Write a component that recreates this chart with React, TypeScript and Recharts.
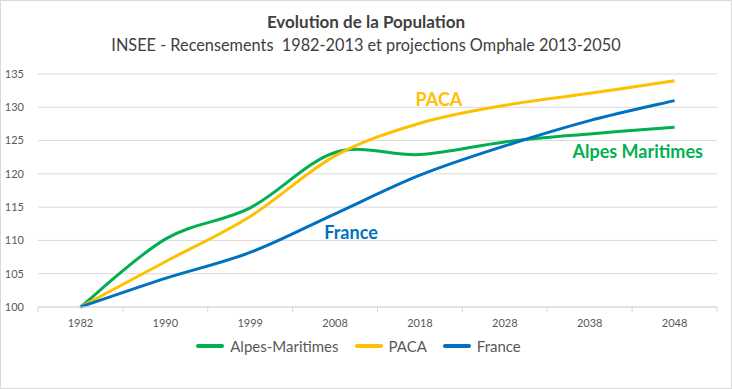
import React from 'react';
import { LineChart, Line, XAxis, YAxis, CartesianGrid, ReferenceDot, Legend } from 'recharts';

const years = ['1982', '1990', '1999', '2008', '2018', '2028', '2038', '2048'];
const alpesMaritimes = [100, 110.2, 114.9, 123.2, 122.9, 124.8, 126, 127];
const paca = [100, 106.8, 113.6, 122.7, 127.6, 130.3, 132.1, 134];
const france = [100, 104.3, 108.2, 114, 119.8, 124.2, 128, 131];
const yTicks = [100, 105, 110, 115, 120, 125, 130, 135];

const title = 'Evolution de la Population';
const subtitle = 'INSEE - Recensements  1982-2013 et projections Omphale 2013-2050';

const GREEN = '#00B050';
const ORANGE = '#FFC000';
const BLUE = '#0070C0';
const FONT = 'Lato, "Open Sans", sans-serif';

const data = years.map((y, i) => ({
  year: y,
  am: alpesMaritimes[i],
  paca: paca[i],
  france: france[i],
}));

const series = [
  { key: 'am', name: 'Alpes-Maritimes', color: GREEN },
  { key: 'paca', name: 'PACA', color: ORANGE },
  { key: 'france', name: 'France', color: BLUE },
];

// Excel-like smoothing (Catmull-Rom Bezier)
const excelCurve = (context: any) => {
  let pts: number[][] = [];
  return {
    areaStart() {},
    areaEnd() {},
    lineStart() { pts = []; },
    point(x: number, y: number) { pts.push([+x, +y]); },
    lineEnd() {
      const n = pts.length;
      if (!n) return;
      context.moveTo(pts[0][0], pts[0][1]);
      for (let i = 0; i < n - 1; i++) {
        const p0 = pts[i - 1] || pts[i];
        const p1 = pts[i];
        const p2 = pts[i + 1];
        const p3 = pts[i + 2] || p2;
        const c1x = p1[0] + (p2[0] - p0[0]) / 6;
        const c1y = p1[1] + (p2[1] - p0[1]) / 6;
        const c2x = p2[0] - (p3[0] - p1[0]) / 6;
        const c2y = p2[1] - (p3[1] - p1[1]) / 6;
        context.bezierCurveTo(c1x, c1y, c2x, c2y, p2[0], p2[1]);
      }
    },
  };
};

const BW = 84.875;

const XTick = (props: any) => {
  const { x, y, payload, index, visibleTicksCount } = props;
  return (
    <g>
      <line x1={x - BW / 2} x2={x - BW / 2} y1={y} y2={y + 5} stroke="#d9d9d9" />
      {index === visibleTicksCount - 1 && (
        <line x1={x + BW / 2} x2={x + BW / 2} y1={y} y2={y + 5} stroke="#d9d9d9" />
      )}
      <text x={x} y={y + 16} dy="0.35em" textAnchor="middle" fontSize={11} fill="#595959" fontFamily={FONT}>
        {payload.value}
      </text>
    </g>
  );
};

const LegendContent = () => (
  <div style={{ display: 'flex', justifyContent: 'center', alignItems: 'center', fontFamily: FONT, fontSize: 15, color: '#595959' }}>
    {series.map((s) => (
      <div key={s.key} style={{ display: 'flex', alignItems: 'center', margin: '0 8px' }}>
        <div style={{ width: 28, height: 4, background: s.color, borderRadius: 2, marginRight: 6 }} />
        <span>{s.name}</span>
      </div>
    ))}
  </div>
);

export default function App() {
  return (
    <div style={{ position: 'absolute', left: 0, top: 0, width: 732, height: 389, boxSizing: 'border-box', border: '1px solid #d9d9d9', background: '#fff' }}>
      <div style={{ position: 'absolute', left: 0, right: 0, top: 10, textAlign: 'center', fontFamily: FONT, fontWeight: 'bold', fontSize: 17, color: '#404040' }}>
        {title}
      </div>
      <div style={{ position: 'absolute', left: 0, right: 0, top: 34, textAlign: 'center', fontFamily: FONT, fontSize: 16.3, color: '#404040', whiteSpace: 'pre' }}>
        {subtitle}
      </div>
      <div style={{ position: 'absolute', left: -1, top: -1 }}>
        <LineChart width={732} height={389} data={data} margin={{ top: 74, right: 15, bottom: 22, left: 0 }}>
          <CartesianGrid vertical={false} stroke="#d9d9d9" />
          <XAxis dataKey="year" axisLine={{ stroke: '#d9d9d9' }} tickLine={false} tickSize={0} tickMargin={0} tick={<XTick />} height={30} interval={0} padding={{ left: BW / 2, right: BW / 2 }} />
          <YAxis domain={[100, 135]} ticks={yTicks} width={38} axisLine={false} tickLine={false} tickMargin={8} tick={{ fontSize: 11, fill: '#595959', fontFamily: FONT }} />
          {series.map((s) => (
            <Line key={s.key} dataKey={s.key} name={s.name} stroke={s.color} strokeWidth={3} dot={false} type={excelCurve as any} isAnimationActive={false} />
          ))}
          <ReferenceDot x="2018" y={131.2} r={0} stroke="none" fill="none"
            label={{ value: 'PACA', position: 'center', dx: 19, fill: ORANGE, fontWeight: 'bold', fontSize: 18, fontFamily: FONT }} />
          <ReferenceDot x="2038" y={123.3} r={0} stroke="none" fill="none"
            label={{ value: 'Alpes Maritimes', position: 'center', dx: 48, fill: GREEN, fontWeight: 'bold', fontSize: 18, fontFamily: FONT }} />
          <ReferenceDot x="2008" y={111.1} r={0} stroke="none" fill="none"
            label={{ value: 'France', position: 'center', dx: 16, fill: BLUE, fontWeight: 'bold', fontSize: 18, fontFamily: FONT }} />
          <Legend verticalAlign="bottom" height={30} content={<LegendContent />} />
        </LineChart>
      </div>
    </div>
  );
}
